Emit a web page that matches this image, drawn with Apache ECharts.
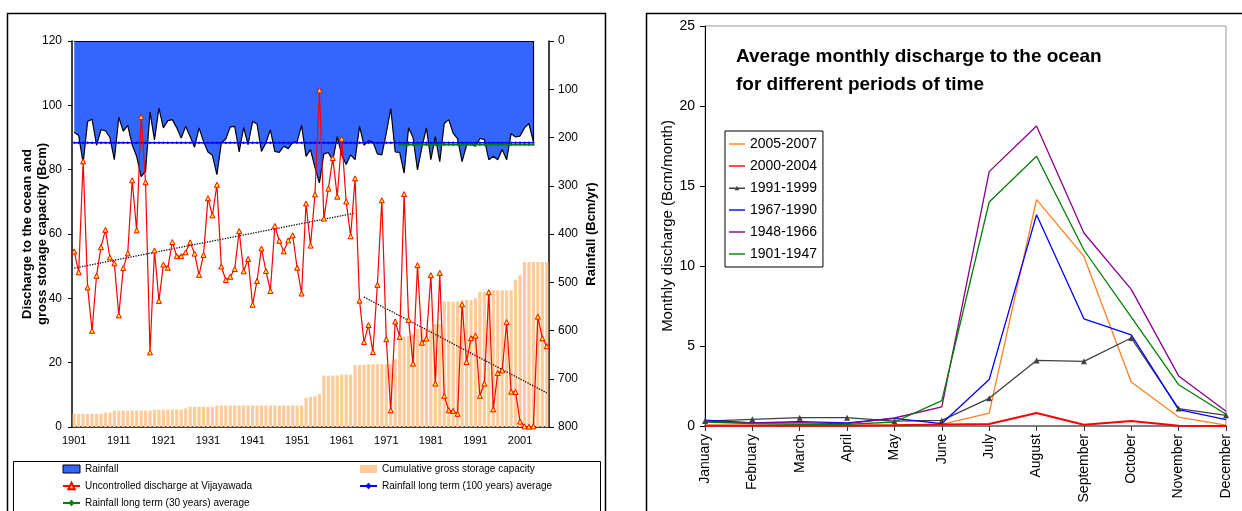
<!DOCTYPE html>
<html>
<head>
<meta charset="utf-8">
<script src="https://cdn.jsdelivr.net/npm/echarts@6/dist/echarts.min.js"></script>
<style>
  html, body { margin: 0; padding: 0; background: #fff; }
  #chart { width: 1242px; height: 511px; }
</style>
</head>
<body>
<div id="chart"></div>
<script>
// left panel: yearly values 1901-2007
const years = []
for (let y = 1901; y <= 2007; y++) years.push(String(y))

// rainfall (Bcm/yr), 1901-2004
const rainfall = [
  189, 196, 253, 167, 162, 216, 184, 186, 200, 246,
  158, 187, 175, 215, 239, 281, 270, 147, 205, 139,
  180, 165, 163, 180, 201, 177, 198, 220, 180, 208,
  230, 237, 277, 211, 203, 178, 177, 230, 179, 215,
  167, 172, 229, 211, 184, 229, 231, 218, 223, 210,
  209, 175, 239, 225, 262, 294, 234, 231, 248, 198,
  236, 256, 236, 246, 177, 216, 207, 209, 234, 236,
  191, 140, 230, 231, 274, 180, 200, 267, 220, 180,
  246, 198, 250, 171, 163, 191, 203, 250, 216, 214,
  218, 202, 204, 246, 239, 246, 225, 246, 192, 199,
  197, 180, 171, 209
]

// uncontrolled discharge at Vijayawada (Bcm)
const discharge = [
  54.6, 48.1, 82.6, 43.4, 29.9, 47.0, 55.9, 61.3, 52.7, 50.9,
  34.7, 49.4, 54.0, 76.7, 61.1, 96.4, 76.1, 23.2, 54.9, 39.2,
  50.5, 49.5, 57.5, 53.1, 53.1, 54.3, 57.4, 53.9, 47.3, 53.5,
  71.1, 65.8, 75.3, 49.9, 45.7, 46.7, 49.1, 60.9, 48.4, 52.2,
  38.0, 45.4, 55.5, 48.5, 42.3, 62.5, 57.9, 54.6, 58.0, 59.6,
  49.5, 41.5, 69.5, 56.4, 72.3, 104.7, 64.8, 74.1, 83.6, 71.6,
  89.6, 70.1, 59.3, 77.3, 39.3, 26.4, 31.7, 23.3, 44.2, 70.5,
  27.3, 5.2, 32.8, 28.0, 72.4, 33.3, 19.7, 50.3, 26.2, 27.5,
  47.2, 13.5, 47.9, 9.7, 5.2, 5.0, 4.1, 38.1, 20.2, 27.6,
  28.4, 9.7, 13.5, 41.9, 5.5, 16.8, 17.6, 32.6, 11.0, 10.9,
  1.7, 0.2, 0.1, 0.2, 34.3, 27.6, 25.1
]

// cumulative gross storage capacity (Bcm)
const storage = [
  4.1, 4.1, 4.1, 4.1, 4.1, 4.1, 4.1, 4.5, 4.5, 5.1,
  5.1, 5.1, 5.1, 5.1, 5.1, 5.1, 5.1, 5.1, 5.4, 5.4,
  5.4, 5.4, 5.4, 5.4, 5.4, 5.8, 6.3, 6.3, 6.3, 6.3,
  6.3, 6.3, 6.7, 6.7, 6.7, 6.7, 6.7, 6.7, 6.7, 6.7,
  6.7, 6.7, 6.7, 6.7, 6.7, 6.7, 6.7, 6.7, 6.7, 6.7,
  6.7, 6.7, 9.1, 9.4, 9.6, 10.3, 16.0, 16.0, 16.0, 16.0,
  16.3, 16.3, 16.3, 19.3, 19.3, 19.3, 19.5, 19.5, 19.5, 19.5,
  19.5, 19.6, 21.1, 28.2, 28.2, 28.2, 29.0, 30.5, 30.5, 30.5,
  30.5, 32.0, 32.0, 39.0, 39.0, 39.0, 39.0, 39.5, 39.5, 39.5,
  40.0, 42.0, 42.0, 42.0, 42.5, 42.5, 42.5, 42.5, 42.5, 45.8,
  47.2, 51.3, 51.3, 51.3, 51.3, 51.3, 51.3
]

const rainLongTerm100 = 211
const rainLongTerm30 = 215
const rain30Start = '1974'

// dotted trend lines of the discharge
const trendEarly = [['1901', 49.4], ['1964', 66.5]]
const trendLate = [['1966', 40.4], ['2007', 10.6]]

// right panel: average monthly discharge (Bcm/month)
const months = ['January', 'February', 'March', 'April', 'May', 'June', 'July',
  'August', 'September', 'October', 'November', 'December']
const p2005_2007 = [0.05, 0.05, 0.05, 0.05, 0.05, 0.1, 0.81, 14.15, 10.6, 2.75, 0.56, 0.05]
const p2000_2004 = [0.02, 0.02, 0.02, 0.02, 0.05, 0.1, 0.12, 0.81, 0.08, 0.31, 0.02, 0.0]
const p1991_1999 = [0.31, 0.42, 0.52, 0.52, 0.3, 0.35, 1.73, 4.1, 4.04, 5.5, 1.09, 0.67]
const p1967_1990 = [0.36, 0.2, 0.27, 0.2, 0.48, 0.15, 2.9, 13.2, 6.7, 5.7, 1.02, 0.4]
const p1948_1966 = [0.3, 0.19, 0.2, 0.15, 0.5, 1.19, 15.9, 18.75, 12.06, 8.54, 3.13, 0.92]
const p1901_1947 = [0.25, 0.15, 0.1, 0.1, 0.25, 1.59, 14.0, 16.86, 11.0, 6.8, 2.58, 0.73]

const font = 'Liberation Sans, Arial, sans-serif'
const lastRain = rainfall.length - 1
const avg100 = rainfall.map(() => rainLongTerm100)
const avg30 = rainfall.map((_, i) => (i >= years.indexOf(rain30Start) ? rainLongTerm30 : null))
const toIdx = (pts) => pts.map(p => [years.indexOf(p[0]), p[1]])

const chart = echarts.init(document.getElementById('chart'))

const periodLine = (name, data, color, extra) => Object.assign({
  name: name,
  type: 'line',
  xAxisIndex: 1,
  yAxisIndex: 2,
  data: data,
  symbol: 'none',
  lineStyle: { color: color, width: 1.3 },
  itemStyle: { color: color }
}, extra || {})

// legend icons: plain line, and line with a small triangle
const lineIcon = 'path://M0,0 L16,0 L16,1.4 L0,1.4 Z'
const triIcon = 'path://M0,3.4 L16,3.4 L16,4.7 L0,4.7 Z M5.6,6 L8,1.6 L10.4,6 Z'

const option = {
  animation: false,
  backgroundColor: '#fff',
  textStyle: { fontFamily: font, color: '#000' },
  title: {
    text: 'Average monthly discharge to the ocean\nfor different periods of time',
    left: 731,
    top: 38,
    textStyle: { fontFamily: font, fontSize: 19, fontWeight: 'bold', color: '#000', lineHeight: 28 }
  },
  graphic: [
    { type: 'rect', shape: { x: 7.5, y: 13.5, width: 598, height: 520 }, style: { fill: 'none', stroke: '#000', lineWidth: 1.5 }, silent: true },
    { type: 'rect', shape: { x: 13.5, y: 461.5, width: 587, height: 80 }, style: { fill: 'none', stroke: '#000', lineWidth: 1 }, silent: true },
    { type: 'rect', shape: { x: 646.5, y: 13.5, width: 620, height: 520 }, style: { fill: 'none', stroke: '#000', lineWidth: 1.5 }, silent: true }
  ],
  legend: [
    {
      orient: 'vertical',
      left: 62,
      top: 463,
      itemWidth: 17,
      itemHeight: 8,
      itemGap: 5,
      padding: 0,
      textStyle: { fontSize: 10, color: '#000', fontFamily: font, lineHeight: 12 },
      data: [
        { name: 'Rainfall', icon: 'rect', itemStyle: { color: '#3366FF', borderColor: '#000', borderWidth: 1 } },
        'Uncontrolled discharge at Vijayawada',
        'Rainfall long term (30 years) average'
      ]
    },
    {
      orient: 'vertical',
      left: 359,
      top: 463,
      itemWidth: 17,
      itemHeight: 8,
      itemGap: 5,
      padding: 0,
      textStyle: { fontSize: 10, color: '#000', fontFamily: font, lineHeight: 12 },
      data: [
        { name: 'Cumulative gross storage capacity', icon: 'rect' },
        'Rainfall long term (100 years) average'
      ]
    },
    {
      orient: 'vertical',
      left: 725,
      top: 131,
      itemWidth: 16,
      itemHeight: 12,
      itemGap: 6,
      padding: [5, 6, 5, 4],
      borderColor: '#000',
      borderWidth: 1,
      backgroundColor: '#fff',
      textStyle: { fontSize: 14, color: '#000', fontFamily: font, lineHeight: 16 },
      data: [
        { name: '2005-2007', icon: lineIcon },
        { name: '2000-2004', icon: lineIcon },
        { name: '1991-1999', icon: triIcon },
        { name: '1967-1990', icon: lineIcon },
        { name: '1948-1966', icon: lineIcon },
        { name: '1901-1947', icon: lineIcon }
      ]
    }
  ],
  grid: [
    { left: 72, top: 41, width: 477, height: 386 },
    { left: 705, top: 26, width: 521, height: 400, show: true, borderColor: '#999', borderWidth: 1 }
  ],
  xAxis: [
    {
      type: 'category',
      gridIndex: 0,
      data: years,
      boundaryGap: true,
      axisLine: { lineStyle: { color: '#000', width: 1.5 } },
      axisTick: { interval: 1, length: 4, lineStyle: { color: '#000' } },
      axisLabel: { interval: 9, fontSize: 11, color: '#000', margin: 8 },
      splitLine: { show: false }
    },
    {
      type: 'category',
      gridIndex: 1,
      data: months,
      boundaryGap: false,
      axisLine: { lineStyle: { color: '#808080', width: 2 } },
      axisTick: { length: 5, lineStyle: { color: '#333' } },
      axisLabel: { interval: 0, rotate: 90, fontSize: 14, color: '#000', margin: 8 },
      splitLine: { show: false }
    }
  ],
  yAxis: [
    {
      type: 'value',
      gridIndex: 0,
      min: 0,
      max: 120,
      interval: 20,
      name: 'Discharge to the ocean and\ngross storage capacity (Bcm)',
      nameLocation: 'middle',
      nameRotate: 90,
      nameGap: 22,
      nameMoveOverlap: false,
      nameTextStyle: { fontSize: 13, fontWeight: 'bold', color: '#000', lineHeight: 15 },
      axisLine: { show: true, lineStyle: { color: '#000', width: 1.5 } },
      axisTick: { show: true, length: 4, lineStyle: { color: '#000' } },
      axisLabel: { fontSize: 12, color: '#000', margin: 10 },
      splitLine: { show: false }
    },
    {
      type: 'value',
      gridIndex: 0,
      position: 'right',
      inverse: true,
      min: 0,
      max: 800,
      interval: 100,
      name: 'Rainfall (Bcm/yr)',
      nameLocation: 'middle',
      nameRotate: 90,
      nameGap: 36,
      nameMoveOverlap: false,
      nameTextStyle: { fontSize: 13, fontWeight: 'bold', color: '#000' },
      axisLine: { show: true, lineStyle: { color: '#000', width: 1.5 } },
      axisTick: { show: true, length: 5, lineStyle: { color: '#000' } },
      axisLabel: { fontSize: 12, color: '#000', margin: 9 },
      splitLine: { show: false }
    },
    {
      type: 'value',
      gridIndex: 1,
      min: 0,
      max: 25,
      interval: 5,
      name: 'Monthly discharge (Bcm/month)',
      nameLocation: 'middle',
      nameRotate: 90,
      nameGap: 30,
      nameMoveOverlap: false,
      nameTextStyle: { fontSize: 15, color: '#000' },
      axisLine: { show: true, lineStyle: { color: '#000', width: 1 } },
      axisTick: { show: true, length: 5, lineStyle: { color: '#000' } },
      axisLabel: { fontSize: 14, color: '#000', margin: 10 },
      splitLine: { show: false }
    }
  ],
  series: [
    {
      name: 'Rainfall',
      type: 'line',
      xAxisIndex: 0,
      yAxisIndex: 1,
      data: rainfall,
      symbol: 'none',
      lineStyle: { color: '#000', width: 1.2 },
      itemStyle: { color: '#3366FF' },
      areaStyle: { color: '#3366FF', opacity: 1 },
      z: 1,
      markLine: {
        silent: true,
        symbol: 'none',
        label: { show: false },
        lineStyle: { color: '#000', width: 1.2, type: 'solid' },
        data: [
          [{ xAxis: 0, yAxis: 0 }, { xAxis: lastRain, yAxis: 0 }],
          [{ xAxis: lastRain, yAxis: 0 }, { xAxis: lastRain, yAxis: rainfall[lastRain] }]
        ]
      }
    },
    {
      name: 'Cumulative gross storage capacity',
      type: 'bar',
      xAxisIndex: 0,
      yAxisIndex: 0,
      data: storage,
      barWidth: 3.2,
      itemStyle: { color: '#FFCC99' },
      z: 2
    },
    {
      name: 'Rainfall long term (100 years) average',
      type: 'line',
      xAxisIndex: 0,
      yAxisIndex: 1,
      data: avg100,
      symbol: 'diamond',
      symbolSize: 3,
      showAllSymbol: true,
      lineStyle: { color: '#0000FF', width: 1.4 },
      itemStyle: { color: '#0000FF' },
      z: 3
    },
    {
      name: 'Rainfall long term (30 years) average',
      type: 'line',
      xAxisIndex: 0,
      yAxisIndex: 1,
      data: avg30,
      symbol: 'diamond',
      symbolSize: 3,
      showAllSymbol: true,
      lineStyle: { color: '#008000', width: 1.6 },
      itemStyle: { color: '#008000' },
      z: 3
    },
    {
      name: 'trend early',
      type: 'line',
      xAxisIndex: 0,
      yAxisIndex: 0,
      data: toIdx(trendEarly),
      symbol: 'none',
      lineStyle: { color: '#000', width: 1.3, type: 'dotted' },
      z: 4
    },
    {
      name: 'trend late',
      type: 'line',
      xAxisIndex: 0,
      yAxisIndex: 0,
      data: toIdx(trendLate),
      symbol: 'none',
      lineStyle: { color: '#000', width: 1.3, type: 'dotted' },
      z: 4
    },
    {
      name: 'Uncontrolled discharge at Vijayawada',
      type: 'line',
      xAxisIndex: 0,
      yAxisIndex: 0,
      data: discharge,
      symbol: 'triangle',
      symbolSize: 5,
      showAllSymbol: true,
      lineStyle: { color: '#FF0000', width: 1.2 },
      itemStyle: { color: '#FFFF00', borderColor: '#FF0000', borderWidth: 1 },
      z: 5
    },
    periodLine('2005-2007', p2005_2007, '#FF8020'),
    periodLine('2000-2004', p2000_2004, '#FF0000', { lineStyle: { color: '#FF0000', width: 2 } }),
    periodLine('1991-1999', p1991_1999, '#404040', { symbol: 'triangle', symbolSize: 6 }),
    periodLine('1967-1990', p1967_1990, '#0000FF'),
    periodLine('1948-1966', p1948_1966, '#8B008B'),
    periodLine('1901-1947', p1901_1947, '#008000')
  ]
}

chart.setOption(option)
</script>
</body>
</html>
